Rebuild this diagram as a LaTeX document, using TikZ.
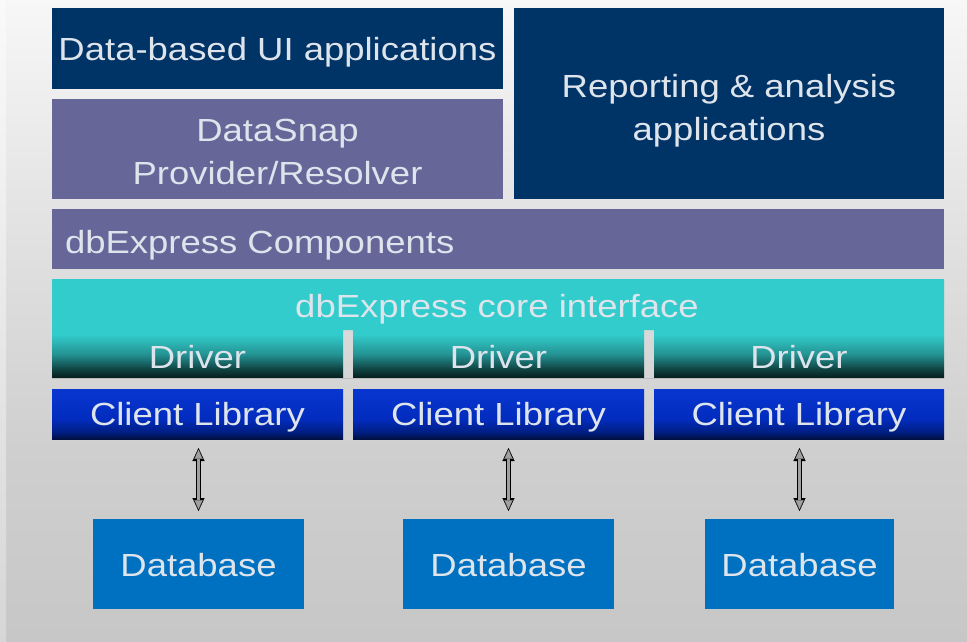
\documentclass[tikz,border=0pt]{standalone}
\usepackage{fontspec}
\setmainfont[FakeStretch=1.14]{Liberation Sans}
\usetikzlibrary{arrows.meta,calc}
\definecolor{navy}{RGB}{0,51,102}
\definecolor{lav}{RGB}{102,102,153}
\definecolor{dbblue}{RGB}{0,112,192}
\definecolor{txt}{RGB}{222,228,236}
\definecolor{cya}{RGB}{51,204,204}
\definecolor{cyb}{RGB}{36,146,146}
\definecolor{cyc}{RGB}{14,62,62}
\definecolor{cyd}{RGB}{6,28,28}
\definecolor{cla}{RGB}{8,54,208}
\definecolor{clb}{RGB}{2,44,190}
\definecolor{clc}{RGB}{0,30,130}
\definecolor{cld}{RGB}{0,16,66}
\definecolor{bga}{RGB}{247,247,247}
\definecolor{bgb}{RGB}{228,228,228}
\definecolor{bgc}{RGB}{207,207,207}
\definecolor{bgd}{RGB}{199,199,199}
\definecolor{arrg}{RGB}{160,160,160}
\pgfdeclareverticalshading{bgshade}{100bp}{color(0bp)=(bgd); color(25bp)=(bgd); color(40bp)=(bgc); color(59bp)=(bgb); color(75bp)=(bga); color(100bp)=(bga)}
\pgfdeclareverticalshading{coreshade}{100bp}{color(0bp)=(cyd); color(25bp)=(cyd); color(29bp)=(cyc); color(37bp)=(cyb); color(47bp)=(cya); color(100bp)=(cya)}
\pgfdeclareverticalshading{clshade}{100bp}{color(0bp)=(cld); color(25bp)=(cld); color(32bp)=(clc); color(45bp)=(clb); color(75bp)=(cla); color(100bp)=(cla)}
\begin{document}
\begin{tikzpicture}[x=1pt,y=-1pt,
  every node/.style={inner sep=0pt, outer sep=0pt, text=txt, font=\fontsize{32}{43}\selectfont},
  blk/.style={anchor=north west, rectangle},
  one/.style={text height=23pt, text depth=0pt},
  arrout/.style={draw=black, line width=5.5pt, {Triangle[width=12pt,length=13pt,line width=0.2pt]}-{Triangle[width=12pt,length=13pt,line width=0.2pt]}},
  arrin/.style={draw=arrg, line width=2.8pt, {Triangle[width=8pt,length=9pt,line width=0.2pt]}-{Triangle[width=8pt,length=9pt,line width=0.2pt]}, shorten <=1.8pt, shorten >=1.8pt}
]
\useasboundingbox (0,0) rectangle (967,641);
\path[shading=bgshade] (0,0) rectangle (967,641);
\path[top color=white!98!black, bottom color=white!84!black] (0,0) rectangle (6,641);

\node[blk, fill=navy, minimum width=451pt, minimum height=81pt, one] (ui) at (52,8) {Data-based UI applications};
\node[blk, fill=lav, minimum width=451pt, minimum height=100pt, align=center, text height=70pt, text depth=0pt] (ds) at (52,99) {DataSnap\\Provider/Resolver};
\node[blk, fill=navy, minimum width=430pt, minimum height=191pt, align=center, text height=74pt, text depth=0pt] (rep) at (514,8) {Reporting \& analysis\\applications};
\node[blk, fill=lav, minimum width=892pt, minimum height=60pt] (comp) at (52,209) {};
\node[anchor=base west] (compt) at (65,253) {dbExpress Components};

\path[shading=coreshade, even odd rule] (52,279) rectangle (944,378) (343,330) rectangle (353,378) (644,330) rectangle (654,378);
\node[anchor=base] (core) at (497,317) {dbExpress core interface};
\node[anchor=base] (dr1) at (197.5,368) {Driver};
\node[anchor=base] (dr2) at (498.5,368) {Driver};
\node[anchor=base] (dr3) at (799,368) {Driver};

\node[blk, shading=clshade, minimum width=291pt, minimum height=50pt, one] (cl1) at (52,389) {Client Library};
\node[blk, shading=clshade, minimum width=291pt, minimum height=50pt, one] (cl2) at (353,389) {Client Library};
\node[blk, shading=clshade, minimum width=290pt, minimum height=50pt, one] (cl3) at (654,389) {Client Library};

\node[blk, fill=dbblue, minimum width=211pt, minimum height=90pt, text height=25pt, text depth=0pt] (db1) at (93,519) {Database};
\node[blk, fill=dbblue, minimum width=211pt, minimum height=90pt, text height=25pt, text depth=0pt] (db2) at (403,519) {Database};
\node[blk, fill=dbblue, minimum width=189pt, minimum height=90pt, text height=25pt, text depth=0pt] (db3) at (705,519) {Database};

\foreach \i in {1,2,3}{
  \draw[arrout] ($(db\i.north |- cl\i.south)+(0,9)$) -- ($(db\i.north)+(0,-8)$);
  \draw[arrin] ($(db\i.north |- cl\i.south)+(0,9)$) -- ($(db\i.north)+(0,-8)$);
}
\end{tikzpicture}
\end{document}
